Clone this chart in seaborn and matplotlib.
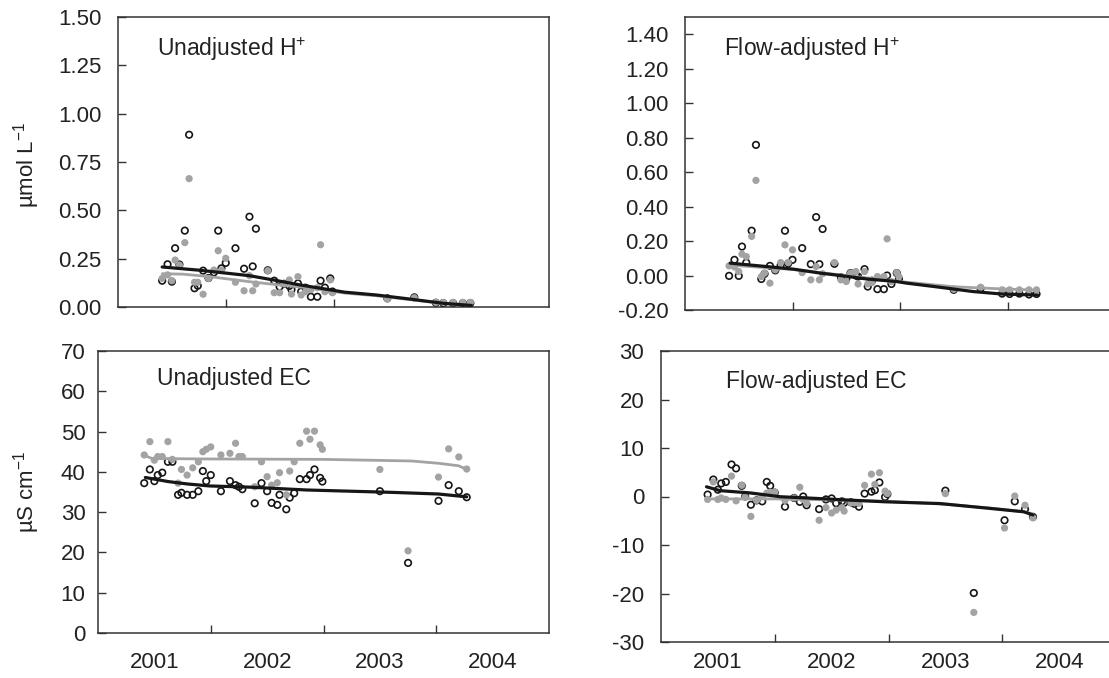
import numpy as np
import matplotlib
matplotlib.use("Agg")
import matplotlib.pyplot as plt
import seaborn as sns
from matplotlib.ticker import FixedLocator, FixedFormatter, NullFormatter

# ---------------- data (decimal years) ----------------
dates = [2000.91, 2000.96, 2001.00, 2001.03, 2001.07, 2001.12, 2001.16, 2001.21, 2001.24, 2001.29,
         2001.34, 2001.39, 2001.43, 2001.46, 2001.50, 2001.59, 2001.67, 2001.72, 2001.75, 2001.78,
         2001.89, 2001.95, 2002.00, 2002.04, 2002.09, 2002.11, 2002.17, 2002.20, 2002.24, 2002.29,
         2002.35, 2002.38, 2002.42, 2002.47, 2002.49, 2003.00, 2003.25, 2003.45, 2003.52, 2003.61,
         2003.70, 2003.77]

# Unadjusted H+ (umol/L)
h_unadj_open = [0.136, 0.221, 0.131, 0.304, 0.22, 0.395, 0.891, 0.097, 0.110, 0.188,
                0.15, 0.179, 0.395, 0.20, 0.228, 0.304, 0.198, 0.467, 0.210, 0.405,
                0.19, 0.136, 0.105, 0.12, 0.109, 0.09, 0.122, 0.08, 0.10, 0.053,
                0.053, 0.136, 0.10, 0.148, 0.08, 0.045, 0.05, 0.022, 0.02, 0.02,
                0.02, 0.02]
h_unadj_grey = [0.148, 0.166, 0.136, 0.243, 0.217, 0.333, 0.664, 0.128, 0.128, 0.066,
                0.148, 0.191, 0.291, 0.191, 0.252, 0.128, 0.084, 0.162, 0.084, 0.119,
                0.188, 0.074, 0.074, 0.12, 0.140, 0.067, 0.157, 0.062, 0.079, 0.09,
                0.10, 0.322, 0.079, 0.140, 0.074, 0.041, 0.048, 0.024, 0.024, 0.024,
                0.024, 0.024]
h_unadj_black_line_t = [2000.91, 2001.26, 2001.72, 2001.94, 2002.19, 2002.60, 2002.90, 2003.21, 2003.52, 2003.78]
h_unadj_black_line_v = [0.207, 0.190, 0.162, 0.140, 0.114, 0.077, 0.062, 0.041, 0.019, 0.008]
h_unadj_grey_line_t = [2000.91, 2001.10, 2001.35, 2001.72, 2002.03, 2002.30, 2002.60, 2002.90, 2003.21, 2003.52, 2003.78]
h_unadj_grey_line_v = [0.172, 0.170, 0.157, 0.131, 0.112, 0.097, 0.072, 0.058, 0.038, 0.018, 0.010]

# Flow-adjusted H+
h_flow_open = [-0.002, 0.091, -0.002, 0.168, 0.075, 0.260, 0.758, -0.020, 0.010, 0.056,
               0.030, 0.060, 0.260, 0.070, 0.091, 0.159, 0.066, 0.339, 0.066, 0.270,
               0.068, -0.010, -0.020, 0.014, 0.000, -0.006, 0.037, -0.064, -0.030, -0.079,
               -0.079, 0.000, -0.049, 0.014, -0.020, -0.083, -0.075, -0.105, -0.107, -0.105,
               -0.110, -0.107]
h_flow_grey = [0.056, 0.050, 0.023, 0.124, 0.110, 0.227, 0.552, -0.006, 0.014, -0.044,
               0.033, 0.075, 0.178, 0.075, 0.149, 0.017, -0.025, 0.052, -0.025, 0.010,
               0.075, -0.025, -0.035, 0.014, 0.023, -0.049, 0.023, -0.049, -0.041, -0.006,
               -0.006, 0.213, -0.035, 0.016, -0.006, -0.080, -0.068, -0.083, -0.083, -0.083,
               -0.083, -0.083]
h_flow_black_line_t = [2000.92, 2001.26, 2001.51, 2001.76, 2001.97, 2002.19, 2002.47, 2002.56, 2002.87, 2003.18, 2003.46, 2003.78]
h_flow_black_line_v = [0.072, 0.052, 0.037, 0.014, -0.002, -0.020, -0.035, -0.044, -0.068, -0.093, -0.108, -0.113]
h_flow_grey_line_t = [2000.92, 2001.50, 2002.00, 2002.50, 2003.00, 2003.46, 2003.78]
h_flow_grey_line_v = [0.060, 0.035, 0.000, -0.035, -0.065, -0.078, -0.085]

# Unadjusted EC (uS/cm)
ec_unadj_open = [37.2, 40.6, 37.7, 39.2, 39.8, 42.5, 42.5, 34.3, 34.8, 34.3,
                 34.3, 35.2, 40.2, 37.7, 39.2, 35.2, 37.7, 36.7, 36.3, 35.7,
                 32.2, 37.2, 35.2, 32.3, 31.8, 34.3, 30.7, 33.6, 34.7, 38.2,
                 38.2, 39.2, 40.6, 38.5, 37.6, 35.2, 17.4, np.nan, 32.8, 36.7,
                 35.2, 33.7]
ec_unadj_grey = [44.2, 47.5, 42.9, 43.8, 43.8, 47.5, 43.1, 37.2, 40.6, 39.2,
                 41.0, 42.5, 45.0, 45.6, 46.2, 44.2, 44.6, 47.1, 43.8, 43.8,
                 36.3, 42.5, 38.8, 36.7, 37.3, 39.8, 34.3, 40.2, 42.5, 47.1,
                 50.1, 48.1, 50.1, 46.7, 45.6, 40.6, 20.4, np.nan, 38.7, 45.7,
                 43.7, 40.7]
ec_unadj_black_line_t = [2000.92, 2001.12, 2001.29, 2001.49, 2001.85, 2002.35, 2003.12, 2003.52, 2003.77]
ec_unadj_black_line_v = [38.6, 37.6, 37.0, 36.5, 36.2, 35.5, 34.9, 34.5, 33.8]
ec_unadj_grey_line_t = [2000.92, 2000.98, 2001.50, 2002.50, 2003.28, 2003.53, 2003.70, 2003.77]
ec_unadj_grey_line_v = [44.0, 43.3, 43.2, 43.1, 42.7, 42.1, 41.5, 40.6]

# Flow-adjusted EC
ec_flow_open = [0.4, 3.5, 1.4, 2.7, 3.0, 6.6, 5.8, 2.2, 0.0, -1.7,
                -0.8, -1.0, 3.0, 2.2, 0.8, -2.1, -0.3, -1.1, 0.0, -1.8,
                -2.6, -0.6, -0.4, -1.4, -1.0, -1.3, -1.2, -1.5, -2.1, 0.6,
                1.0, 1.3, 2.9, -0.1, 0.5, 1.2, -19.9, np.nan, -4.9, -1.0,
                -2.6, -4.2]
ec_flow_grey = [-0.6, 3.0, -0.6, -0.3, -0.6, 4.2, -0.9, 2.3, -0.1, -4.1,
                -0.8, 0.0, 0.7, 0.9, 0.9, -0.8, -0.3, 1.9, -0.6, -1.4,
                -4.9, -2.3, -3.4, -2.8, -2.3, -3.0, -1.3, -1.3, -1.4, 2.3,
                4.6, 2.5, 4.9, 1.1, 0.6, 0.6, -23.9, np.nan, -6.5, 0.1,
                -1.8, -4.4]
ec_flow_black_line_t = [2000.90, 2001.02, 2001.28, 2001.55, 2001.87, 2002.16, 2002.48, 2002.95, 2003.39, 2003.69, 2003.77]
ec_flow_black_line_v = [2.0, 1.2, 0.75, -0.05, -0.4, -0.75, -1.1, -1.45, -2.45, -3.15, -3.8]
ec_flow_grey_line_t = [2000.90, 2001.50, 2002.00, 2002.50, 2003.00, 2003.40, 2003.70, 2003.77]
ec_flow_grey_line_v = [-0.5, -0.5, -0.7, -1.0, -1.6, -2.4, -3.2, -3.6]

year_labels = ["2001", "2002", "2003", "2004"]
panel_titles = ["Unadjusted H$^{+}$", "Flow-adjusted H$^{+}$", "Unadjusted EC", "Flow-adjusted EC"]

# ---------------- style ----------------
sns.set_theme(style="white")
plt.rcParams['font.family'] = ['Liberation Sans', 'DejaVu Sans']
plt.rcParams['mathtext.fontset'] = 'custom'
plt.rcParams['mathtext.rm'] = 'Liberation Sans'
plt.rcParams['mathtext.it'] = 'Liberation Sans:italic'
plt.rcParams['mathtext.default'] = 'regular'
plt.rcParams['axes.unicode_minus'] = False

GREY = "#a3a3a3"
BLACK = "#161616"
SPINE = "#333333"
FS = 16

W, H = 1109, 678
fig = plt.figure(figsize=(W / 100, H / 100), dpi=100)
fig.patch.set_facecolor("white")


def add_ax(l, t, r, b):
    return fig.add_axes([l / W, 1 - b / H, (r - l) / W, (b - t) / H])


def fmt2(v):
    return "%.2f" % v


panels = [
    dict(rect=(118, 17, 549, 307), open=h_unadj_open, grey=h_unadj_grey,
         bl=(h_unadj_black_line_t, h_unadj_black_line_v), gl=(h_unadj_grey_line_t, h_unadj_grey_line_v),
         ylim=(0, 1.5), yticks=[0, 0.25, 0.5, 0.75, 1.0, 1.25, 1.5], yfmt=fmt2,
         title=panel_titles[0], tpos=(157, 56), xlab=False, ypad=12),
    dict(rect=(685, 17, 1115, 310), open=h_flow_open, grey=h_flow_grey,
         bl=(h_flow_black_line_t, h_flow_black_line_v), gl=(h_flow_grey_line_t, h_flow_grey_line_v),
         ylim=(-0.2, 1.5), yticks=[-0.2, 0.0, 0.2, 0.4, 0.6, 0.8, 1.0, 1.2, 1.4], yfmt=fmt2,
         title=panel_titles[1], tpos=(724, 56), xlab=False, ypad=12),
    dict(rect=(98, 351, 549, 633), open=ec_unadj_open, grey=ec_unadj_grey,
         bl=(ec_unadj_black_line_t, ec_unadj_black_line_v), gl=(ec_unadj_grey_line_t, ec_unadj_grey_line_v),
         ylim=(0, 70), yticks=[0, 10, 20, 30, 40, 50, 60, 70], yfmt=lambda v: "%d" % v,
         title=panel_titles[2], tpos=(157, 385), xlab=True, ypad=9, xpad=14),
    dict(rect=(661, 351, 1116, 642), open=ec_flow_open, grey=ec_flow_grey,
         bl=(ec_flow_black_line_t, ec_flow_black_line_v), gl=(ec_flow_grey_line_t, ec_flow_grey_line_v),
         ylim=(-30, 30), yticks=[-30, -20, -10, 0, 10, 20, 30], yfmt=lambda v: "%d" % v,
         title=panel_titles[3], tpos=(726, 388), xlab=True, ypad=12, xpad=7.5),
]

for p in panels:
    ax = add_ax(*p["rect"])
    ax.set_facecolor("white")
    sns.scatterplot(x=dates, y=p["open"], ax=ax, color=BLACK, facecolors="none",
                    edgecolor=BLACK, s=22, linewidth=1.2, zorder=2, legend=False)
    sns.scatterplot(x=dates, y=p["grey"], ax=ax, color=GREY, s=27, linewidth=0,
                    edgecolor="none", zorder=3, legend=False)
    sns.lineplot(x=p["gl"][0], y=p["gl"][1], ax=ax, color=GREY, lw=2.0,
                 estimator=None, sort=False, zorder=4)
    sns.lineplot(x=p["bl"][0], y=p["bl"][1], ax=ax, color=BLACK, lw=2.3,
                 estimator=None, sort=False, zorder=5)

    ax.set_xlim(2000.5, 2004.5)
    ax.set_ylim(*p["ylim"])
    ax.set_xlabel("")
    ax.set_ylabel("")

    ax.xaxis.set_major_locator(FixedLocator([2001.5, 2002.5, 2003.5]))
    ax.xaxis.set_major_formatter(NullFormatter())
    ax.tick_params(axis="x", which="major", direction="in", length=6, width=1, color=SPINE,
                   bottom=True, top=False)
    if p["xlab"]:
        ax.xaxis.set_minor_locator(FixedLocator([2001, 2002, 2003, 2004]))
        ax.xaxis.set_minor_formatter(FixedFormatter(year_labels))
        ax.tick_params(axis="x", which="minor", length=0, pad=p["xpad"], labelsize=FS,
                       labelcolor="#222222")

    ax.yaxis.set_major_locator(FixedLocator(p["yticks"]))
    ax.yaxis.set_major_formatter(FixedFormatter([p["yfmt"](v) for v in p["yticks"]]))
    ax.tick_params(axis="y", which="major", direction="in", length=6, width=1, color=SPINE,
                   left=True, right=False, pad=p["ypad"], labelsize=FS, labelcolor="#222222")

    for s in ax.spines.values():
        s.set_visible(True)
        s.set_color(SPINE)
        s.set_linewidth(1.1)
    ax.grid(False)

    fig.text(p["tpos"][0] / W, 1 - p["tpos"][1] / H, p["title"], fontsize=16.5,
             color="#222222", ha="left", va="baseline")

fig.text(27 / W, 1 - 165 / H, "µmol L$^{-1}$", rotation=90, ha="center", va="center",
         fontsize=FS, color="#222222")
fig.text(27 / W, 1 - 492 / H, "µS cm$^{-1}$", rotation=90, ha="center", va="center",
         fontsize=FS, color="#222222")

fig.savefig("out.png", dpi=100, facecolor="white")
